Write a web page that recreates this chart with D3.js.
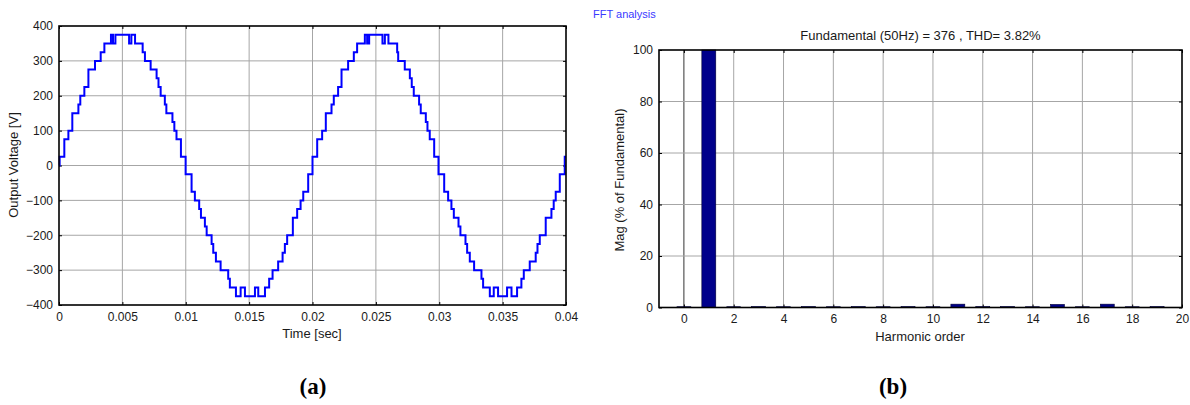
<!DOCTYPE html>
<html>
<head>
<meta charset="utf-8">
<script src="https://cdn.jsdelivr.net/npm/d3@7"></script>
<style>
  html, body { margin: 0; padding: 0; background: #fff; }
  svg { display: block; }
</style>
</head>
<body>
<svg id="chart" width="1190" height="405"></svg>
<script>
// ---------- DATA ----------
// Staircase output voltage: step start times (ms) and levels (V)
const waveTimesMs = [
  0, 0.05, 0.42, 0.74, 1.05, 1.53, 1.68, 2.0, 2.32, 2.84, 3.29, 3.58, 4.1, 4.26, 4.45, 5.53, 5.71, 6.0,
  6.6, 6.78, 7.23, 7.7, 7.85, 8.02, 8.35, 8.47, 8.95, 9.1, 9.27, 9.62, 9.99,
  10.46, 10.72, 11.06, 11.2, 11.51, 11.65, 12.04, 12.17, 12.38, 12.75, 13.35, 13.48, 13.96, 14.33, 14.67,
  15.46, 15.72, 16.25, 16.58, 16.85, 17.29, 17.64, 17.82, 18.0, 18.45, 18.79, 19.06, 19.27, 19.66, 20.0,
  20.37, 20.76, 21.05, 21.5, 21.68, 22.02, 22.29, 22.81, 23.26, 23.52, 24.13, 24.31, 24.47, 25.52, 25.71,
  25.99, 26.68, 26.76, 27.28, 27.68, 27.83, 27.99, 28.41, 28.54, 28.94, 29.07, 29.25, 29.6, 29.94,
  30.39, 30.7, 30.96, 31.15, 31.52, 31.67, 32.07, 32.2, 32.41, 32.75, 33.33, 33.46, 33.99, 34.3, 34.64,
  35.35, 35.7, 36.14, 36.48, 36.67, 37.14, 37.61, 37.75, 37.93, 38.4, 38.85, 39.03, 39.19, 39.51, 39.9, 40.0
];
const waveVolts = [
  0, 25, 75, 100, 150, 175, 200, 225, 275, 300, 325, 350, 375, 350, 375, 350, 375, 350,
  325, 300, 275, 250, 225, 200, 175, 150, 125, 100, 75, 25, -25,
  -75, -100, -125, -150, -175, -200, -225, -250, -275, -300, -325, -350, -375, -350, -375,
  -350, -375, -350, -325, -300, -275, -250, -225, -200, -150, -125, -100, -75, -25, 25,
  75, 100, 150, 175, 200, 225, 275, 300, 325, 350, 375, 350, 375, 350, 375,
  350, 325, 300, 275, 250, 225, 200, 175, 150, 125, 100, 75, 25, -25,
  -75, -100, -125, -150, -175, -200, -225, -250, -275, -300, -325, -350, -375, -350, -375,
  -350, -375, -350, -325, -300, -275, -250, -225, -200, -150, -125, -100, -75, -25, 25, 25
];
const timeTicksMs = [0, 5, 10, 15, 20, 25, 30, 35, 40];
const timeTickLabels = ["0", "0.005", "0.01", "0.015", "0.02", "0.025", "0.03", "0.035", "0.04"];
const voltTicks = [-400, -300, -200, -100, 0, 100, 200, 300, 400];

// FFT spectrum: harmonic order and magnitude (% of fundamental)
const harmonicOrders = [0, 1, 2, 3, 4, 5, 6, 7, 8, 9, 10, 11, 12, 13, 14, 15, 16, 17, 18, 19];
const harmonicMags = [0.3, 100, 0.3, 0.4, 0.3, 0.4, 0.3, 0.4, 0.3, 0.4, 0.3, 1.3, 0.4, 0.4, 0.3, 1.2, 0.3, 1.3, 0.3, 0.4];
const orderTicks = [0, 2, 4, 6, 8, 10, 12, 14, 16, 18, 20];
const magTicks = [0, 20, 40, 60, 80, 100];

const fftTitle = "Fundamental (50Hz) = 376 , THD= 3.82%";

// ---------- DRAW ----------
const svg = d3.select("#chart");
const gridColor = "#a6a6a6";
const sans = "'Liberation Sans', Arial, sans-serif";
const tickFs = 12;
const labFs = 13;

function box(g, x0, x1, y0, y1) {
  g.append("rect").attr("x", x0).attr("y", y1).attr("width", x1 - x0).attr("height", y0 - y1)
    .attr("fill", "none").attr("stroke", "#000").attr("stroke-width", 1.6);
}
function label(g, txt, x, y, size, rotate) {
  const t = g.append("text").attr("text-anchor", "middle").style("font-family", sans)
    .style("font-size", size + "px").attr("fill", "#1a1a1a").text(txt);
  if (rotate) t.attr("transform", `translate(${x},${y}) rotate(-90)`);
  else t.attr("x", x).attr("y", y);
  return t;
}
function styleAxis(g) {
  g.select(".domain").remove();
  g.selectAll("text").style("font-size", tickFs + "px").attr("fill", "#1a1a1a").style("font-family", sans);
}

// ----- Left: time-domain waveform -----
const xT = d3.scaleLinear().domain([0, 40]).range([59, 566]);
const yV = d3.scaleLinear().domain([-400, 400]).range([305, 26]);
const gL = svg.append("g");

gL.selectAll(".vg").data(timeTicksMs.slice(1, -1)).join("line")
  .attr("x1", d => xT(d)).attr("x2", d => xT(d)).attr("y1", yV(-400)).attr("y2", yV(400))
  .attr("stroke", gridColor).attr("stroke-width", 1);
gL.selectAll(".hg").data(voltTicks.slice(1, -1)).join("line")
  .attr("x1", xT(0)).attr("x2", xT(40)).attr("y1", d => yV(d)).attr("y2", d => yV(d))
  .attr("stroke", gridColor).attr("stroke-width", 1);

const axB = d3.axisBottom(xT).tickValues(timeTicksMs).tickFormat((d, i) => timeTickLabels[i]).tickSizeInner(-3).tickSizeOuter(0).tickPadding(7);
const axT = d3.axisTop(xT).tickValues(timeTicksMs).tickFormat("").tickSizeInner(-3).tickSizeOuter(0);
const axLft = d3.axisLeft(yV).tickValues(voltTicks).tickSizeInner(-3).tickSizeOuter(0).tickPadding(6);
const axR = d3.axisRight(yV).tickValues(voltTicks).tickFormat("").tickSizeInner(-3).tickSizeOuter(0);
[[axB, `translate(0,${yV(-400)})`], [axT, `translate(0,${yV(400)})`], [axLft, `translate(${xT(0)},0)`], [axR, `translate(${xT(40)},0)`]]
  .forEach(([ax, tr]) => styleAxis(gL.append("g").attr("transform", tr).call(ax)));

const wavePts = waveTimesMs.map((t, i) => [t, waveVolts[i]]);
gL.append("path").datum(wavePts)
  .attr("d", d3.line().x(d => xT(d[0])).y(d => yV(d[1])).curve(d3.curveStepAfter))
  .attr("fill", "none").attr("stroke", "#0000ff").attr("stroke-width", 2);

box(gL, xT(0), xT(40), yV(-400), yV(400));

label(gL, "Time [sec]", 312, 338, labFs);
label(gL, "Output Voltage [V]", 18, 165, labFs, true);

// ----- Right: FFT bar chart -----
const xH = d3.scaleLinear().domain([-1, 20]).range([659, 1182]);
const yM = d3.scaleLinear().domain([0, 100]).range([307.5, 50]);
const gR = svg.append("g");

gR.selectAll(".vg").data(orderTicks.slice(0, -1)).join("line")
  .attr("x1", d => xH(d)).attr("x2", d => xH(d)).attr("y1", yM(0)).attr("y2", yM(100))
  .attr("stroke", (d, i) => i === 0 ? "#333" : gridColor).attr("stroke-width", 1);
gR.selectAll(".hg").data(magTicks.slice(1, -1)).join("line")
  .attr("x1", xH(-1)).attr("x2", xH(20)).attr("y1", d => yM(d)).attr("y2", d => yM(d))
  .attr("stroke", gridColor).attr("stroke-width", 1);

const axB2 = d3.axisBottom(xH).tickValues(orderTicks).tickSizeInner(-3).tickSizeOuter(0).tickPadding(7);
const axT2 = d3.axisTop(xH).tickValues(orderTicks).tickFormat("").tickSizeInner(-3).tickSizeOuter(0);
const axL2 = d3.axisLeft(yM).tickValues(magTicks).tickSizeInner(-3).tickSizeOuter(0).tickPadding(6);
const axR2 = d3.axisRight(yM).tickValues(magTicks).tickFormat("").tickSizeInner(-3).tickSizeOuter(0);
[[axB2, `translate(0,${yM(0)})`], [axT2, `translate(0,${yM(100)})`], [axL2, `translate(${xH(-1)},0)`], [axR2, `translate(${xH(20)},0)`]]
  .forEach(([ax, tr]) => styleAxis(gR.append("g").attr("transform", tr).call(ax)));

const barW = xH(0.56) - xH(0);
gR.selectAll(".bar").data(harmonicOrders).join("rect")
  .attr("x", d => xH(d) - barW / 2)
  .attr("y", (d, i) => yM(harmonicMags[i]))
  .attr("width", barW)
  .attr("height", (d, i) => yM(0) - yM(harmonicMags[i]))
  .attr("fill", "#00008b").attr("stroke", "#000033").attr("stroke-width", 0.6);

box(gR, xH(-1), xH(20), yM(0), yM(100));

label(gR, fftTitle, (xH(-1) + xH(20)) / 2, 40, labFs);
label(gR, "Harmonic order", 920, 341, labFs);
label(gR, "Mag (% of Fundamental)", 624, 180, labFs, true);

svg.append("text").attr("x", 593).attr("y", 18).style("font-family", sans).style("font-size", "11px")
  .attr("fill", "#3a3aff").text("FFT analysis");

// panel captions
const serif = "'Liberation Serif', 'DejaVu Serif', serif";
[["(a)", 313], ["(b)", 893]].forEach(([txt, x]) => {
  svg.append("text").attr("x", x).attr("y", 394).attr("text-anchor", "middle")
    .style("font-family", serif).style("font-weight", "bold").style("font-size", "23px")
    .attr("fill", "#000").text(txt);
});
</script>
</body>
</html>
